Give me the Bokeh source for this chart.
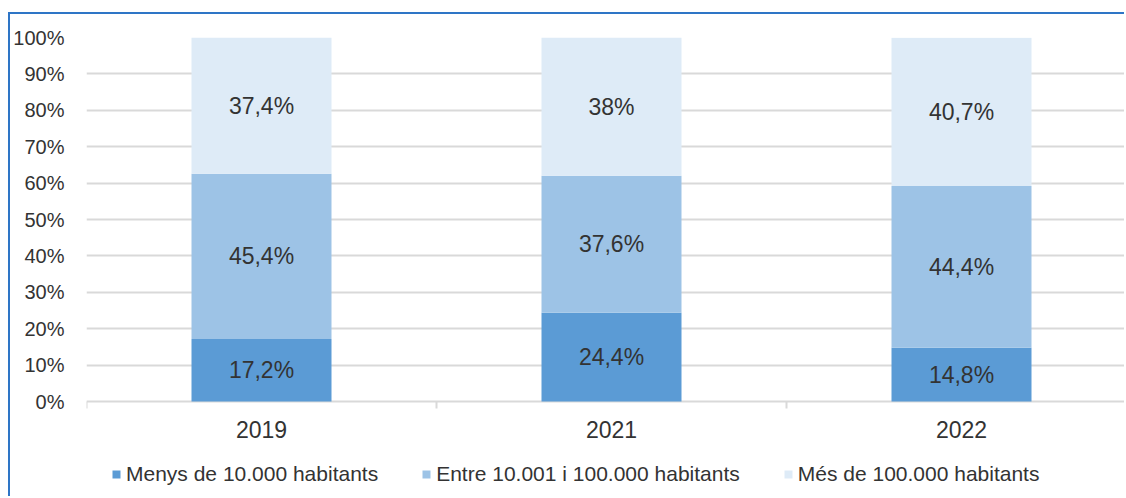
import math
from bokeh.plotting import figure
from bokeh.models import (Range1d, FixedTicker, PrintfTickFormatter, ColumnDataSource,
                          Legend, LegendItem)
from bokeh.core.properties import value
from bokeh.embed import file_html
from bokeh.resources import INLINE

years = ["2019", "2021", "2022"]
series = ["Menys de 10.000 habitants", "Entre 10.001 i 100.000 habitants", "Més de 100.000 habitants"]
menys = [17.2, 24.4, 14.8]
entre = [45.4, 37.6, 44.4]
mes = [37.4, 38.0, 40.7]
colors = ["#5b9bd5", "#9dc3e6", "#deebf7"]
y_ticks = [0, 10, 20, 30, 40, 50, 60, 70, 80, 90, 100]

FONT = "Liberation Sans"
TXT = "#333333"
GRID = "#d9d9d9"

xs = [i + 0.5 for i in range(len(years))]
bounds = list(range(len(years) + 1))
keys = ["menys", "entre", "mes"]
data = dict(x=xs, menys=menys, entre=entre, mes=mes)
src = ColumnDataSource(data)

# frame: 364 px for 0..100, extended 97 px below for category labels and legend
p = figure(width=1116, height=484, output_backend="svg", toolbar_location=None,
           x_range=Range1d(0, 1040 / 350), y_range=Range1d(-97 / 364 * 100, 100),
           min_border_left=73, min_border_right=0, min_border_top=23, min_border_bottom=0,
           styles={"border-left": "2px solid #2e75c6", "border-top": "2px solid #2e75c6",
                   "margin-left": "8px", "margin-top": "12px"})
p.outline_line_color = None
p.background_fill_color = "white"
p.border_fill_color = "white"
p.xaxis.visible = False

renderers = p.vbar_stack(keys, x="x", width=0.4, color=colors, source=src, line_color=None)

# category boundary ticks and category labels
p.ray(x=bounds, y=[0] * len(bounds), length=7, length_units="screen", angle=-math.pi / 2,
      line_color=GRID, line_width=2)
p.text(x=xs, y=[0] * len(xs), text=years, y_offset=28, text_align="center",
       text_baseline="middle", text_font=value(FONT), text_font_size="23px", text_color=TXT)

# data labels
def fmt(v):
    s = f"{v:.1f}".replace(".", ",")
    return s[:-2] if s.endswith(",0") else s

lx, ly, lt = [], [], []
for i in range(len(years)):
    base = 0
    for k in keys:
        v = data[k][i]
        lx.append(xs[i]); ly.append(base + v / 2); lt.append(fmt(v) + "%")
        base += v
p.text(x=lx, y=ly, text=lt, text_align="center", text_baseline="middle",
       text_font=value(FONT), text_font_size="23px", text_color=TXT)

ya = p.yaxis[0]
ya.ticker = FixedTicker(ticks=y_ticks)
ya.formatter = PrintfTickFormatter(format="%d%%")
ya.axis_line_color = None
ya.major_tick_line_color = None
ya.minor_tick_line_color = None
ya.major_label_text_font = FONT
ya.major_label_text_font_size = "20px"
ya.major_label_text_color = TXT
ya.major_label_standoff = 16

p.xgrid.grid_line_color = None
p.ygrid.grid_line_color = GRID
p.ygrid.grid_line_width = 2

legend = Legend(items=[LegendItem(label=s, renderers=[r]) for s, r in zip(series, renderers)],
                orientation="horizontal", location=(25, 12),
                glyph_width=10, glyph_height=10, label_standoff=5, spacing=43,
                padding=0, margin=0, border_line_color=None, background_fill_alpha=0,
                label_text_font=FONT, label_text_font_size="21px", label_text_color=TXT)
p.add_layout(legend, "center")

open("out.html", "w").write(file_html(p, INLINE))
